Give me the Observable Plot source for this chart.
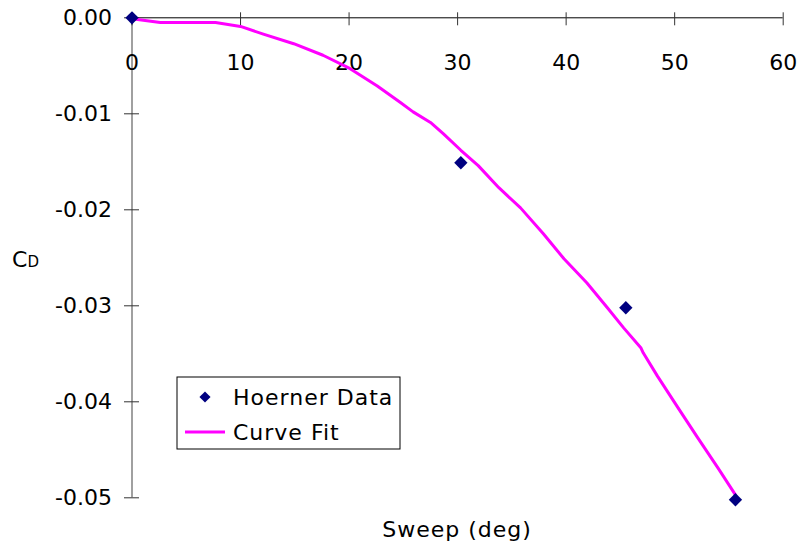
<!DOCTYPE html>
<html>
<head>
<meta charset="utf-8">
<script src="https://cdn.jsdelivr.net/npm/d3@7"></script>
<script src="https://cdn.jsdelivr.net/npm/@observablehq/plot@0.6"></script>
<style>
  html, body { margin: 0; padding: 0; background: #fff; }
  #chart { position: relative; width: 807px; height: 548px; }
  svg { font-family: "DejaVu Sans", Verdana, sans-serif; }
</style>
</head>
<body>
<div id="chart"></div>
<script>
// Hoerner measurements: drag increment vs. wing sweep
const hoernerSweep = [0, 30.3, 45.5, 55.6];
const hoernerCD = [0, -0.0151, -0.0302, -0.0502];

// Curve fit through the sweep range
const fitSweep = [0, 2.6, 7.7, 10.0, 12.1, 14.9, 17.6, 20.1, 22.6, 24.7, 25.9, 27.5, 28.7, 30.3, 31.9, 33.8, 35.8, 37.9, 39.8, 41.9, 43.8, 45.3, 46.9, 47.1, 48.4, 50.3, 52.1, 54.0, 55.6];
const fitCD = [-0.0001, -0.0005, -0.0005, -0.0009, -0.0017, -0.0027, -0.0039, -0.0053, -0.0071, -0.0088, -0.0098, -0.0109, -0.0121, -0.0138, -0.0154, -0.0177, -0.0198, -0.0225, -0.0251, -0.0276, -0.0302, -0.0323, -0.0344, -0.0349, -0.0373, -0.0406, -0.0437, -0.0469, -0.0497];

const xTicks = [0, 10, 20, 30, 40, 50, 60];
const yTicks = [0, -0.01, -0.02, -0.03, -0.04, -0.05];
const seriesNames = ["Hoerner Data", "Curve Fit"];
const xTitle = "Sweep (deg)";

const points = hoernerSweep.map((s, i) => ({sweep: s, cd: hoernerCD[i]}));
const fit = fitSweep.map((s, i) => ({sweep: s, cd: fitCD[i]}));

const FONT = "DejaVu Sans, Verdana, sans-serif";
const fmtY = d => d.toFixed(2);

const W = 807, H = 548;
const mL = 131.5, mT = 17.3, mR = 24.3, mB = 50.7;

const chart = Plot.plot({
  width: W,
  height: H,
  marginLeft: mL,
  marginTop: mT,
  marginRight: mR,
  marginBottom: mB,
  style: {fontFamily: FONT, fontSize: "22px", color: "#000", background: "#fff"},
  x: {domain: [0, 60], axis: null, label: null},
  y: {domain: [-0.05, 0], axis: null, label: null},
  marks: [
    // vertical axis line
    Plot.ruleX([0], {stroke: "#808080", strokeWidth: 1.5}),
    // horizontal axis line at CD = 0
    Plot.ruleY([0], {stroke: "#000", strokeWidth: 1}),
    // cross ticks on the x axis
    Plot.axisX({anchor: "top", ticks: xTicks, tickSize: 13, dy: 7, tickFormat: () => "", label: null, stroke: "#333", strokeWidth: 1}),
    // x tick labels below the axis line
    Plot.text(xTicks, {x: d => d, frameAnchor: "top", dy: 37, text: d => String(d), fontSize: 22, fill: "#000"}),
    // cross ticks on the y axis
    Plot.axisY({anchor: "left", ticks: yTicks, tickSize: 15, dx: 7.5, tickFormat: () => "", label: null, stroke: "#333", strokeWidth: 1}),
    // y tick labels
    Plot.axisY({anchor: "left", ticks: yTicks, tickSize: 0, tickPadding: 20, tickFormat: fmtY, label: null, fontSize: 22, fill: "#000"}),
    // curve fit
    Plot.line(fit, {x: "sweep", y: "cd", stroke: "#ff00ff", strokeWidth: 3, curve: "linear"}),
    // measured points
    Plot.dot(points, {x: "sweep", y: "cd", symbol: "diamond2", r: 6, fill: "#000080", stroke: "none"})
  ]
});

document.getElementById("chart").appendChild(chart);

const svg = d3.select(chart);

// axis titles
svg.append("text")
  .attr("x", (mL + (W - mR)) / 2)
  .attr("y", 537)
  .attr("text-anchor", "middle")
  .attr("font-family", FONT)
  .attr("font-size", 22)
  .attr("letter-spacing", 1)
  .attr("fill", "#000")
  .text(xTitle);

const yTitle = svg.append("text")
  .attr("x", 12)
  .attr("y", 267)
  .attr("text-anchor", "start")
  .attr("font-family", FONT)
  .attr("font-size", 22)
  .attr("fill", "#000");
yTitle.append("tspan").text("C");
yTitle.append("tspan").attr("font-size", 15).text("D");

// legend box
const lg = svg.append("g")
  .attr("font-family", FONT)
  .attr("font-size", 22)
  .attr("letter-spacing", 1)
  .attr("fill", "#000")
  .attr("text-anchor", "start");
lg.append("rect")
  .attr("x", 177).attr("y", 377).attr("width", 223).attr("height", 72)
  .attr("fill", "#fff").attr("stroke", "#000").attr("stroke-width", 1);
lg.append("path")
  .attr("d", d3.symbol(d3.symbolDiamond2, Math.PI * 5.6 * 5.6 * 0.8)())
  .attr("transform", "translate(205,397)")
  .attr("fill", "#000080");
lg.append("text").attr("x", 233).attr("y", 397).attr("dy", "0.36em").text(seriesNames[0]);
lg.append("line")
  .attr("x1", 185).attr("x2", 225).attr("y1", 432).attr("y2", 432)
  .attr("stroke", "#ff00ff").attr("stroke-width", 3);
lg.append("text").attr("x", 233).attr("y", 432).attr("dy", "0.36em").text(seriesNames[1]);
</script>
</body>
</html>
